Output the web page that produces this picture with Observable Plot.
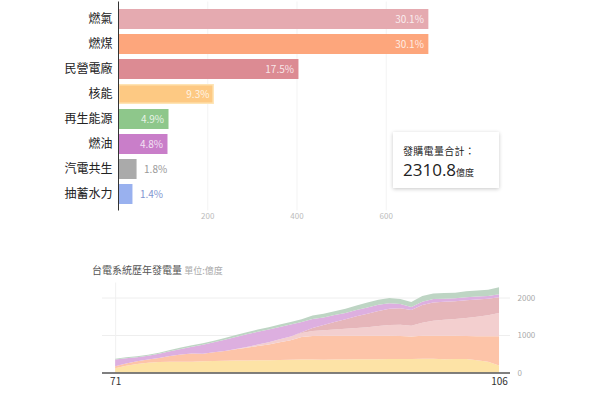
<!DOCTYPE html>
<html><head><meta charset="utf-8">
<script src="https://cdn.jsdelivr.net/npm/d3@7"></script>
<script src="https://cdn.jsdelivr.net/npm/@observablehq/plot@0.6"></script>
<style>
body{margin:0;background:#fff;font-family:"Noto Sans CJK TC","Noto Sans",sans-serif}
#root{position:relative;width:600px;height:395px;overflow:hidden;background:#fff}
#bars{position:absolute;left:0;top:0}
#area{position:absolute;left:0;top:280px}
#box{position:absolute;left:393px;top:132px;width:106px;height:56px;box-sizing:border-box;background:#fff;box-shadow:0 1px 4px rgba(0,0,0,0.22);padding:12px 0 0 10px;color:#222}
#box .l1{font-size:10px;line-height:14px;letter-spacing:0.3px}
#box .l2{font-size:17px;line-height:22px;margin-top:1px;font-family:"Open Sans","Noto Sans",sans-serif}
#box .l2 span{font-size:9px;font-family:"Noto Sans CJK TC",sans-serif}
#title{position:absolute;left:92px;top:263px;font-size:10px;line-height:14px;color:#555;white-space:nowrap}
#title span{color:#aaa;font-size:9px}
svg{overflow:visible}
</style></head>
<body>
<div id="root">
  <div id="bars"></div>
  <div id="box"><div class="l1">發購電量合計：</div><div class="l2">2310.8<span>億度</span></div></div>
  <div id="title">台電系統歷年發電量 <span>單位:億度</span></div>
  <div id="area"></div>
</div>
<script>
// ---- bar chart data ----
const categories = ["燃氣","燃煤","民營電廠","核能","再生能源","燃油","汽電共生","抽蓄水力"];
const amounts = [695.5, 695.5, 404.4, 214.9, 113.2, 110.9, 41.6, 32.4];
const shareLabels = ["30.1%","30.1%","17.5%","9.3%","4.9%","4.8%","1.8%","1.4%"];
const barColors = ["#e5aab0","#fda67c","#dc8b93","#fdc983","#8ec78b","#c97ec9","#aaaaaa","#99b1ef"];
const barStrokes = ["#e5aab0","#fda67c","#dc8b93","#fee4b4","#8ec78b","#c97ec9","#aaaaaa","#99b1ef"];
const labelInside = [true,true,true,true,true,true,false,false];
const outsideLabelColors = ["#fff","#fff","#fff","#fff","#fff","#fff","#999999","#7f95d0"];
const xTicks = [200, 400, 600];

// ---- area chart data (億度), 民國年 ----
const years = [71,72,73,74,75,76,77,78,79,80,81,82,83,84,85,86,87,88,89,90,91,92,93,94,95,96,97,98,99,100,101,102,103,104,105,106];
const seriesNames = ["核能","燃煤","燃氣","民營電廠","燃油","再生能源"];
const nuclear = [115,180,225,260,280,290,290,290,300,310,315,320,320,325,330,335,340,345,345,340,350,350,355,355,355,360,360,360,365,365,355,360,360,330,290,190];
const coal    = [ 55, 60, 75, 90,110,150,190,220,200,230,260,300,340,380,420,470,520,600,630,640,630,630,625,625,625,620,615,600,615,615,625,620,615,640,680,780];
const gas     = [  0,  0,  0,  0,  0,  0,  0,  0,  0,  0,  0, 10, 20, 40, 60, 80,100,110,130,150,170,190,210,230,260,290,300,290,350,400,430,450,480,520,560,620];
const ipp     = [  0,  0,  0,  0,  0,  0,  0,  0,  0,  0,  0,  0,  0,  0,  0,  0,  0, 20, 80,140,200,250,310,360,400,430,440,420,470,490,480,470,470,460,440,420];
const oil     = [180,140,110,100,110,130,150,180,240,265,300,320,340,340,340,330,320,270,245,200,185,170,165,165,165,150,110, 80, 90, 90, 80, 80, 80, 75, 70, 80];
const renew   = [ 20, 25, 25, 25, 30, 30, 35, 40, 40, 45, 45, 50, 55, 60, 60, 65, 65, 75, 90, 95,100,110,120,130,135,140,135,130,150,150,150,150,160,160,170,185];
const areaColors = ["#fde3a6","#fdc4a8","#f3cfcf","#e6b6ba","#ddafe0","#bed5c4"];
const yTicks = [0, 1000, 2000];
const xLabels = [71, 106];

const font = '"Noto Sans CJK TC","Noto Sans",sans-serif';

// bar rows
const rows = categories.map((c, i) => ({
  cat: c, value: amounts[i], label: shareLabels[i], fill: barColors[i], stroke: barStrokes[i],
  inside: labelInside[i], tcolor: outsideLabelColors[i]
}));

const bars = Plot.plot({
  width: 600, height: 230,
  marginLeft: 118, marginRight: 125, marginTop: 1.5, marginBottom: 19.5,
  x: {domain: [0, 800], axis: null},
  y: {domain: categories, padding: 0.22, label: null, tickSize: 0, tickPadding: 6},
  color: {type: "identity"},
  style: {fontFamily: font, fontSize: "12px", color: "#222", background: "transparent"},
  marks: [
    Plot.ruleX(xTicks, {stroke: "#000", strokeOpacity: 0.05}),
    Plot.barX(rows, {x: "value", y: "cat", fill: "fill", stroke: "stroke", strokeWidth: 1.5, inset: 0.75}),
    Plot.ruleX([0], {stroke: "#333", strokeWidth: 1}),
    Plot.text(rows.filter(d => d.inside), {x: "value", y: "cat", text: "label", textAnchor: "end", dx: -5,
      fill: "#fff", fillOpacity: 0.8, fontSize: 10, fontFamily: font}),
    Plot.text(rows.filter(d => !d.inside), {x: "value", y: "cat", text: "label", textAnchor: "start", dx: 7,
      fill: "tcolor", fontSize: 10, fontFamily: font}),
    Plot.text(xTicks, {x: d => d, frameAnchor: "bottom", dy: 8, text: d => String(d), fill: "#bbb", fontSize: 8})
  ]
});
document.getElementById("bars").appendChild(bars);

// area long data
const seriesArrays = [nuclear, coal, gas, ipp, oil, renew];
const longData = [];
seriesNames.forEach((s, k) => years.forEach((y, i) => longData.push({year: y, series: s, value: seriesArrays[k][i]})));

const area = Plot.plot({
  width: 600, height: 115,
  marginLeft: 102, marginRight: 90, marginTop: 2.5, marginBottom: 22.5,
  x: {domain: [69.8, 107], axis: null},
  y: {domain: [0, 2400], axis: null},
  color: {domain: seriesNames, range: areaColors},
  style: {fontFamily: font, background: "transparent"},
  marks: [
    Plot.ruleY([1000, 2000], {stroke: "#eeeeee"}),
    Plot.ruleX([71], {stroke: "#f0f0f0", y1: 0, y2: 2400}),
    Plot.areaY(longData, {x: "year", y: "value", z: "series", fill: "series", order: seriesNames}),
    Plot.ruleY([0], {stroke: "#555", strokeWidth: 1.5}),
    Plot.text(yTicks, {y: d => d, frameAnchor: "right", dx: 7, textAnchor: "start", text: d => String(d), fill: "#aaa", fontSize: 8}),
    Plot.text(xLabels, {x: d => d, frameAnchor: "bottom", dy: 12, text: d => String(d), fill: "#333", fontSize: 10})
  ]
});
document.getElementById("area").appendChild(area);
</script>
</body></html>
